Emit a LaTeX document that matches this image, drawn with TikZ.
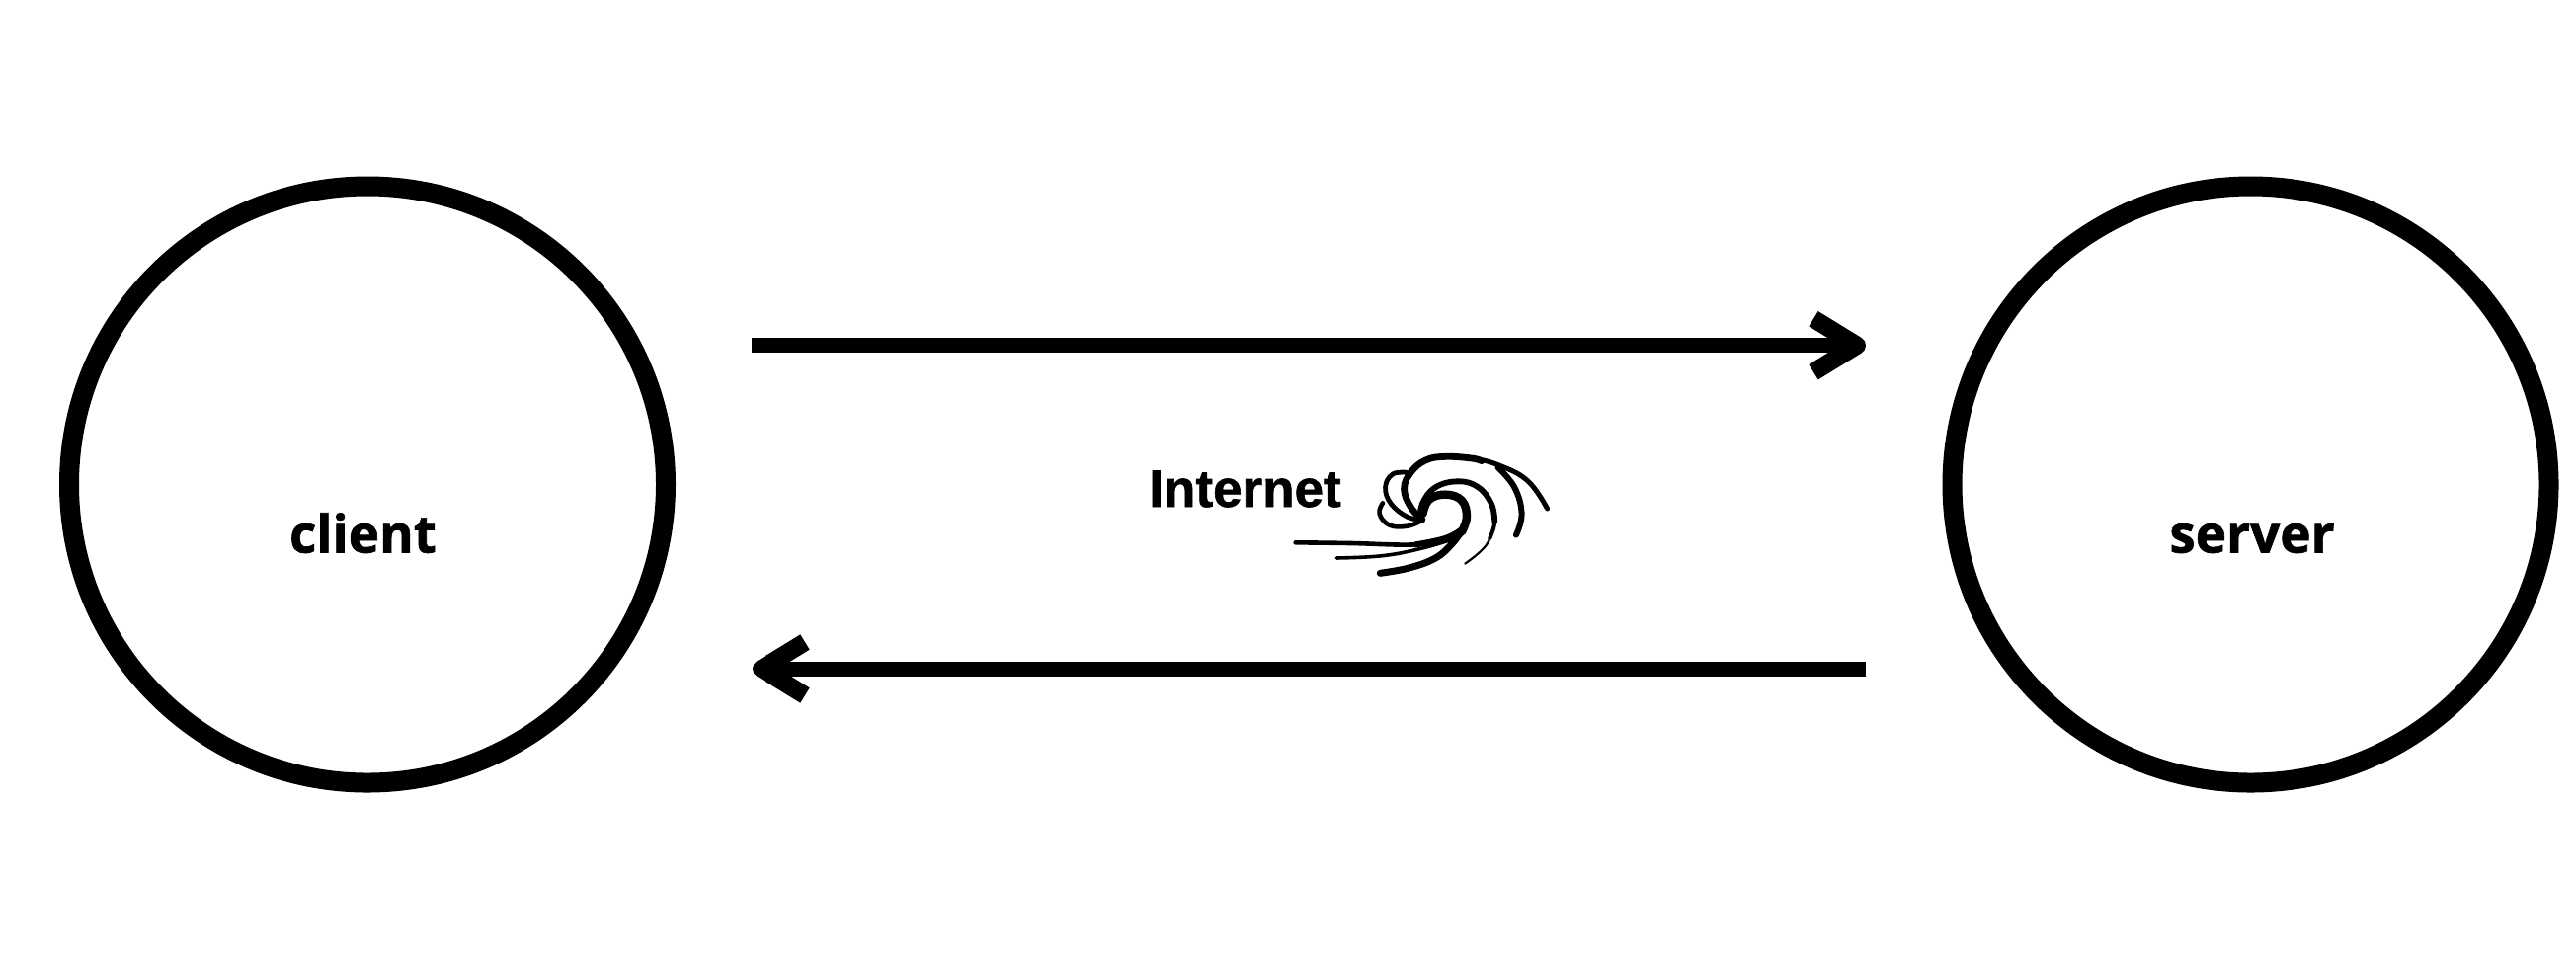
\documentclass[tikz,border=0pt]{standalone}
\usepackage{fontspec}
\setmainfont{Open Sans}[BoldFeatures={FakeBold=1.2}]
\newfontfamily\netfont{Liberation Sans}[BoldFeatures={FakeBold=1.2}]
\usetikzlibrary{arrows.meta,calc}
\newdimen\pxu \pxu=0.25pt
\tikzset{
  peer/.style={circle,draw=black,line width=20\pxu,minimum size=604\pxu,inner sep=0pt},
  peerlabel/.style={inner sep=0pt,font=\bfseries\fontsize{13.25pt}{13.25pt}\selectfont},
  flow/.style={line width=15\pxu,-{Straight Barb[length=11pt,width=13.5pt,line width=4.5pt,line cap=butt,line join=round]}},
  shaft/.style={line width=15\pxu},
  wave/.style={line cap=round,line join=round,draw=black,fill=none},
}
\begin{document}
\begin{tikzpicture}[x=\pxu,y=-\pxu]
\useasboundingbox (0,0) rectangle (2608,976);
\node[peer] (client) at (372,490.5) {};
\node[peer] (server) at (2278.5,490.5) {};
\node[peerlabel,anchor=base] (clientlabel) at (367.5,559.5) {client};
\node[peerlabel,anchor=base] (serverlabel) at (2280,559.5) {server};
\node[inner sep=0pt,anchor=base,font=\netfont\bfseries\fontsize{13.25pt}{13.25pt}\selectfont] (netlabel) at (1260.5,513) {Internet};
\coordinate (a1) at (761,349.7);
\coordinate (a2) at (1889,349.7);
\coordinate (b1) at (1889,677);
\coordinate (b2) at (762,677);
\draw[flow] (a1) -- (a2);
\draw[flow] (b1) -- (b2);
\draw[shaft,shorten >=10\pxu] (a1) -- (a2);
\draw[shaft,shorten >=10\pxu] (b1) -- (b2);
\begin{scope}[shift={(1100,430)},x=0.3333\pxu,y=-0.3333\pxu]
% crest, full length and its thicker middle
\draw[wave,line width=5\pxu] plot[smooth,tension=0.7] coordinates {(1400,255) (1340,170) (1250,122) (1170,102) (1090,97) (1030,108) (985,145) (965,195) (985,250) (1020,288)};
\draw[wave,line width=6.8\pxu] plot[smooth,tension=0.7] coordinates {(1200,110) (1170,102) (1090,97) (1030,108) (985,145) (965,195) (985,250) (1020,288)};
% back strand
\draw[wave,line width=6\pxu] plot[smooth,tension=0.7] coordinates {(1305,335) (1322,270) (1300,190) (1250,130)};
% second curl, tapering to a hair at its lower end
\draw[wave,line width=5.8\pxu] plot[smooth,tension=0.7] coordinates {(1015,285) (1020,240) (1060,190) (1130,172) (1190,190) (1230,240) (1240,295)};
\draw[wave,line width=4\pxu] plot[smooth,tension=0.7] coordinates {(1230,240) (1240,295) (1225,345)};
\draw[wave,line width=2.2\pxu] plot[smooth,tension=0.7] coordinates {(1240,295) (1215,365) (1150,422)};
% inner curl
\draw[wave,line width=8.4\pxu] plot[smooth,tension=0.7] coordinates {(1022,270) (1040,228) (1090,212) (1140,230) (1155,280) (1140,325)};
% foam
\draw[wave,line width=4.8\pxu] plot[smooth,tension=0.7] coordinates {(975,145) (930,150) (908,190) (925,240) (975,280) (1020,288)};
\draw[wave,line width=4.6\pxu] plot[smooth,tension=0.7] coordinates {(900,238) (890,270) (920,305) (975,308) (1020,290)};
% streams
\draw[wave,line width=4.6\pxu] plot[smooth,tension=0.7] coordinates {(635,358) (800,360) (1000,364) (1090,345) (1140,318)};
\draw[wave,line width=6\pxu] plot[smooth,tension=0.7] coordinates {(1000,364) (1090,345) (1140,318)};
\draw[wave,line width=3.6\pxu] plot[smooth,tension=0.7] coordinates {(760,405) (900,398) (1020,375) (1120,345)};
\draw[wave,line width=7\pxu] plot[smooth,tension=0.7] coordinates {(892,451) (980,435) (1060,405) (1110,362) (1145,315)};
\end{scope}
\end{tikzpicture}
\end{document}
